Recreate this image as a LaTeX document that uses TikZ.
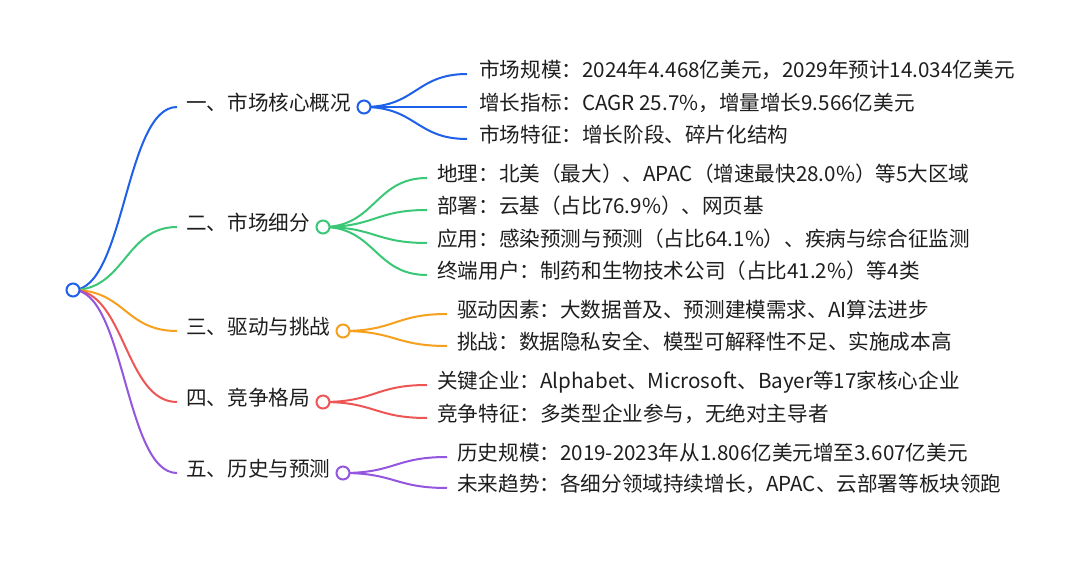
\documentclass[tikz,border=0pt]{standalone}
\usepackage{fontspec}
\setmainfont{Noto Sans CJK SC}
\definecolor{cblue}{RGB}{30,96,232}
\definecolor{cgreen}{RGB}{58,200,118}
\definecolor{corange}{RGB}{246,160,30}
\definecolor{cred}{RGB}{238,86,86}
\definecolor{cpurple}{RGB}{148,86,222}
\definecolor{ctext}{RGB}{30,30,30}
\tikzset{
  lbl/.style={anchor=west,inner sep=0pt,text=ctext,font=\fontsize{20.6}{24}\selectfont,text height=0.88em,text depth=0.12em},
  dot/.style={circle,draw=#1,fill=white,line width=2pt,minimum size=13pt,inner sep=0pt},
  br/.style={draw=#1,line width=2pt}
}
\begin{document}
\begin{tikzpicture}[x=1pt,y=-1pt]
\useasboundingbox[fill=white] (0,0) rectangle (1080,564);
% root
\coordinate (r) at (73,290);
% level-1 line ends
\coordinate (e1) at (177,107);
\coordinate (e2) at (177,227);
\coordinate (e3) at (177,331);
\coordinate (e4) at (177,402);
\coordinate (e5) at (177,473);
\draw[br=cblue] (r) .. controls (125,290) and (125,107) .. (e1);
\draw[br=cgreen] (r) .. controls (125,290) and (125,227) .. (e2);
\draw[br=corange] (r) .. controls (125,290) and (125,331) .. (e3);
\draw[br=cred] (r) .. controls (125,290) and (125,402) .. (e4);
\draw[br=cpurple] (r) .. controls (125,290) and (125,473) .. (e5);
\node[dot=cblue] (root) at (r) {};
% level-1 texts
\node[lbl] (t1) at (186,107) {一、市场核心概况};
\node[lbl] (t2) at (186,227) {二、市场细分};
\node[lbl] (t3) at (186,331) {三、驱动与挑战};
\node[lbl] (t4) at (186,402) {四、竞争格局};
\node[lbl] (t5) at (186,473) {五、历史与预测};
% level-1 circles centres
\coordinate (c1) at (364,107);
\coordinate (c2) at (323,227);
\coordinate (c3) at (343,331);
\coordinate (c4) at (323,402);
\coordinate (c5) at (343,473);
% level-2 ends
\coordinate (a1) at (467,74);
\coordinate (a2) at (467,107);
\coordinate (a3) at (467,139);
\coordinate (g1) at (427,178);
\coordinate (g2) at (427,210);
\coordinate (g3) at (427,243);
\coordinate (g4) at (427,275);
\coordinate (o1) at (447,314);
\coordinate (o2) at (447,346);
\coordinate (d1) at (427,385);
\coordinate (d2) at (427,418);
\coordinate (p1) at (447,457);
\coordinate (p2) at (447,488);
% level-2 curves
\draw[br=cblue] (c1) .. controls (416,107) and (416,74) .. (a1);
\draw[br=cblue] (c1) -- (a2);
\draw[br=cblue] (c1) .. controls (416,107) and (416,139) .. (a3);
\draw[br=cgreen] (c2) .. controls (375,227) and (375,178) .. (g1);
\draw[br=cgreen] (c2) .. controls (375,227) and (375,210) .. (g2);
\draw[br=cgreen] (c2) .. controls (375,227) and (375,243) .. (g3);
\draw[br=cgreen] (c2) .. controls (375,227) and (375,275) .. (g4);
\draw[br=corange] (c3) .. controls (395,331) and (395,314) .. (o1);
\draw[br=corange] (c3) .. controls (395,331) and (395,346) .. (o2);
\draw[br=cred] (c4) .. controls (375,402) and (375,385) .. (d1);
\draw[br=cred] (c4) .. controls (375,402) and (375,418) .. (d2);
\draw[br=cpurple] (c5) .. controls (395,473) and (395,457) .. (p1);
\draw[br=cpurple] (c5) .. controls (395,473) and (395,488) .. (p2);
\node[dot=cblue] (n1) at (c1) {};
\node[dot=cgreen] (n2) at (c2) {};
\node[dot=corange] (n3) at (c3) {};
\node[dot=cred] (n4) at (c4) {};
\node[dot=cpurple] (n5) at (c5) {};
% level-2 texts
\node[lbl] (ta1) at ([xshift=12]a1) {市场规模：2024年4.468亿美元，2029年预计14.034亿美元};
\node[lbl] (ta2) at ([xshift=12]a2) {增长指标：CAGR 25.7\%，增量增长9.566亿美元};
\node[lbl] (ta3) at ([xshift=12]a3) {市场特征：增长阶段、碎片化结构};
\node[lbl] (tg1) at ([xshift=10]g1) {地理：北美（最大）、APAC（增速最快28.0\%）等5大区域};
\node[lbl] (tg2) at ([xshift=10]g2) {部署：云基（占比76.9\%）、网页基};
\node[lbl] (tg3) at ([xshift=10]g3) {应用：感染预测与预测（占比64.1\%）、疾病与综合征监测};
\node[lbl] (tg4) at ([xshift=10]g4) {终端用户：制药和生物技术公司（占比41.2\%）等4类};
\node[lbl] (to1) at ([xshift=10]o1) {驱动因素：大数据普及、预测建模需求、AI算法进步};
\node[lbl] (to2) at ([xshift=10]o2) {挑战：数据隐私安全、模型可解释性不足、实施成本高};
\node[lbl] (td1) at ([xshift=10]d1) {关键企业：Alphabet、Microsoft、Bayer等17家核心企业};
\node[lbl] (td2) at ([xshift=10]d2) {竞争特征：多类型企业参与，无绝对主导者};
\node[lbl] (tp1) at ([xshift=10]p1) {历史规模：2019-2023年从1.806亿美元增至3.607亿美元};
\node[lbl] (tp2) at ([xshift=10]p2) {未来趋势：各细分领域持续增长，APAC、云部署等板块领跑};
\end{tikzpicture}
\end{document}
